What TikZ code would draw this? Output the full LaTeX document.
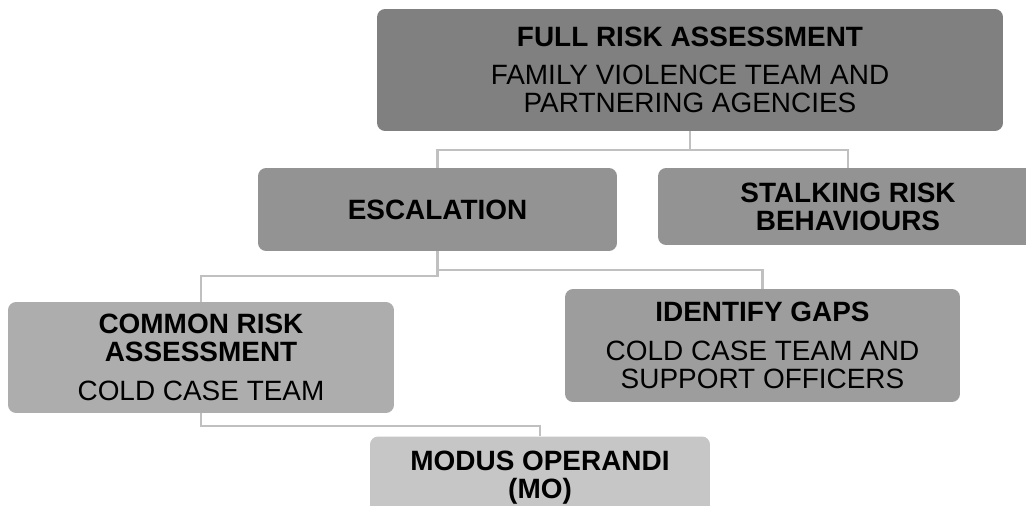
\documentclass[tikz,border=0pt]{standalone}
\usepackage{fontspec}
\setmainfont{Liberation Sans}
\definecolor{boxA}{HTML}{808080}
\definecolor{boxB}{HTML}{939393}
\definecolor{boxC}{HTML}{ADADAD}
\definecolor{boxD}{HTML}{9D9D9D}
\definecolor{boxE}{HTML}{C6C6C6}
\definecolor{linkgray}{HTML}{C0C0C0}
\begin{document}
\begin{tikzpicture}[x=0.02cm,y=-0.02cm,
    orgbox/.style={rectangle,rounded corners=0.16cm,inner sep=0pt,align=center,
      font=\fontsize{15.9}{15.9}\selectfont},
    link/.style={draw=linkgray,line width=1.3pt}]
  \clip (0,0) rectangle (1026,506);
  \fill[white] (0,0) rectangle (1026,506);
  % boxes
  \node[orgbox,fill=boxA,minimum width=12.52cm,minimum height=2.44cm] (full) at (690,70)
    {\textbf{FULL RISK ASSESSMENT}\\[6pt] FAMILY VIOLENCE TEAM AND\\ PARTNERING AGENCIES};
  \node[orgbox,fill=boxB,minimum width=7.18cm,minimum height=1.66cm] (esc) at (437.5,209.5)
    {\textbf{ESCALATION}};
  \node[orgbox,fill=boxB,minimum width=7.6cm,minimum height=1.54cm] (stalk) at (848,206.5)
    {\textbf{STALKING RISK}\\ \textbf{BEHAVIOURS}};
  \node[orgbox,fill=boxC,minimum width=7.72cm,minimum height=2.22cm] (common) at (201,357.5)
    {\textbf{COMMON RISK}\\ \textbf{ASSESSMENT}\\[6pt] COLD CASE TEAM};
  \node[orgbox,fill=boxD,minimum width=7.9cm,minimum height=2.26cm] (gaps) at (762.5,345.5)
    {\textbf{IDENTIFY GAPS}\\[6pt] COLD CASE TEAM AND\\ SUPPORT OFFICERS};
  \node[orgbox,fill=boxE,minimum width=6.8cm,minimum height=1.66cm] (mo) at (540,478)
    {\textbf{MODUS OPERANDI}\\ \textbf{(MO)}};
  % connectors
  \draw[link] (full.south) -- ++(0,19) -| (esc.north);
  \draw[link] (full.south) -- ++(0,19) -| (stalk.north);
  \draw[link] (esc.south) -- ++(0,19) -| (gaps.north);
  \draw[link] (esc.south) -- ++(0,25) -| (common.north);
  \draw[link] (common.south) -- ++(0,13) -| (mo.north);
\end{tikzpicture}
\end{document}
